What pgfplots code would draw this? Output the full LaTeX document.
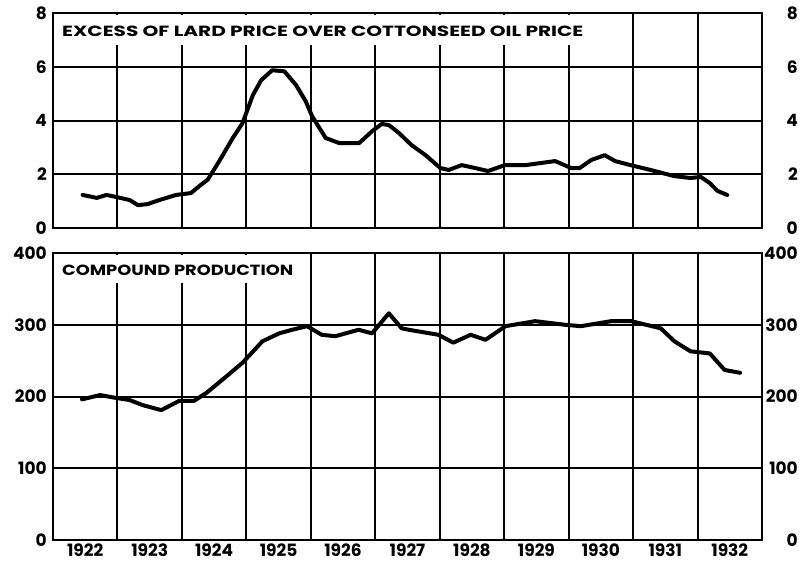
\documentclass[border=0pt]{standalone}
\usepackage{fontspec}
\setmainfont{Poppins}
\usepackage{graphicx}
\usepackage{pgfplots}
\pgfplotsset{compat=1.18}
\pgfplotstableread{
t v
0.46 1.23
0.68 1.12
0.83 1.23
0.99 1.15
1.19 1.04
1.32 0.85
1.47 0.89
1.65 1.04
1.91 1.23
2.14 1.30
2.27 1.56
2.40 1.80
2.58 2.49
2.79 3.35
2.94 3.90
3.10 4.94
3.23 5.50
3.40 5.87
3.59 5.83
3.77 5.32
3.92 4.72
4.02 4.16
4.23 3.35
4.44 3.16
4.75 3.16
4.95 3.60
5.10 3.87
5.21 3.83
5.36 3.55
5.56 3.09
5.78 2.71
6.01 2.23
6.14 2.16
6.34 2.34
6.55 2.23
6.75 2.12
7.01 2.34
7.33 2.34
7.79 2.49
8.04 2.23
8.17 2.23
8.35 2.53
8.56 2.71
8.72 2.49
8.96 2.34
9.27 2.16
9.64 1.93
9.89 1.86
10.05 1.90
10.19 1.67
10.31 1.38
10.46 1.23
}\lardtable
\pgfplotstableread{
t v
0.45 196
0.73 202
0.98 198
1.19 195
1.39 188
1.68 181
1.96 194
2.19 194
2.38 205
2.69 228
2.94 247
3.25 277
3.51 288
3.71 293
3.94 298
4.17 286
4.38 284
4.74 293
4.95 288
5.21 316
5.41 295
5.52 293
5.98 286
6.21 275
6.48 286
6.71 279
7.02 298
7.48 305
7.94 300
8.19 298
8.66 305
8.97 305
9.43 295
9.64 277
9.89 263
10.19 260
10.42 237
10.66 233
}\comptable
\pgfplotsset{
  base/.style={
    scale only axis, width=709pt, xmin=0, xmax=11,
    axis line style={line width=2.5pt},
    major tick length=0pt,
    tick label style={font=\bfseries\fontsize{17}{17}\selectfont, inner sep=0pt},
    /pgf/number format/assume math mode=true,
    xtick={1,...,10}, xticklabels={},
    grid=major, major grid style={black, line width=2pt},
    yticklabel style={anchor=east, xshift=-6pt},
  },
  rightlab/.style={
    scale only axis, width=709pt, xmin=0, xmax=11,
    axis y line*=right, axis x line=none,
    axis line style={line width=2.5pt},
    major tick length=0pt,
    tick label style={font=\bfseries\fontsize{17}{17}\selectfont, inner sep=0pt},
    /pgf/number format/assume math mode=true,
    yticklabel style={anchor=east, xshift=36pt},
  },
  dataline/.style={black, line width=4pt, line join=round, line cap=round},
}
\begin{document}
\begin{tikzpicture}[x=1pt,y=1pt]
\path (-53pt,-22pt) rectangle (752pt,540pt);
% bottom panel
\begin{axis}[base, at={(0,0)}, anchor=south west, height=287pt,
  ymin=0, ymax=400, ytick={0,100,200,300,400},
  extra x ticks={0.5,1.5,...,10.5},
  extra x tick labels={1922,1923,1924,1925,1926,1927,1928,1929,1930,1931,1932},
  extra x tick style={grid=none, xticklabel style={anchor=north, yshift=-3.5pt}}]
\fill[white] (axis cs:0.03,358) rectangle (axis cs:3.8,397);
\node[anchor=west, inner sep=0pt] at (axis cs:0.14,375.6) {\resizebox{231pt}{10.5pt}{\bfseries COMPOUND PRODUCTION}};
\addplot[dataline] table[x=t,y=v] {\comptable};
\end{axis}
\begin{axis}[rightlab, at={(0,0)}, anchor=south west, height=287pt,
  ymin=0, ymax=400, ytick={0,100,200,300,400}]
\end{axis}
% top panel
\begin{axis}[base, at={(0,312pt)}, anchor=south west, height=215pt,
  ymin=0, ymax=8, ytick={0,2,4,6,8}]
\fill[white] (axis cs:0.03,6.8) rectangle (axis cs:8.6,7.94);
\node[anchor=west, inner sep=0pt] at (axis cs:0.14,7.32) {\resizebox{521pt}{10.5pt}{\bfseries EXCESS OF LARD PRICE OVER COTTONSEED OIL PRICE}};
\addplot[dataline] table[x=t,y=v] {\lardtable};
\end{axis}
\begin{axis}[rightlab, at={(0,312pt)}, anchor=south west, height=215pt,
  ymin=0, ymax=8, ytick={0,2,4,6,8}]
\end{axis}
\end{tikzpicture}
\end{document}
